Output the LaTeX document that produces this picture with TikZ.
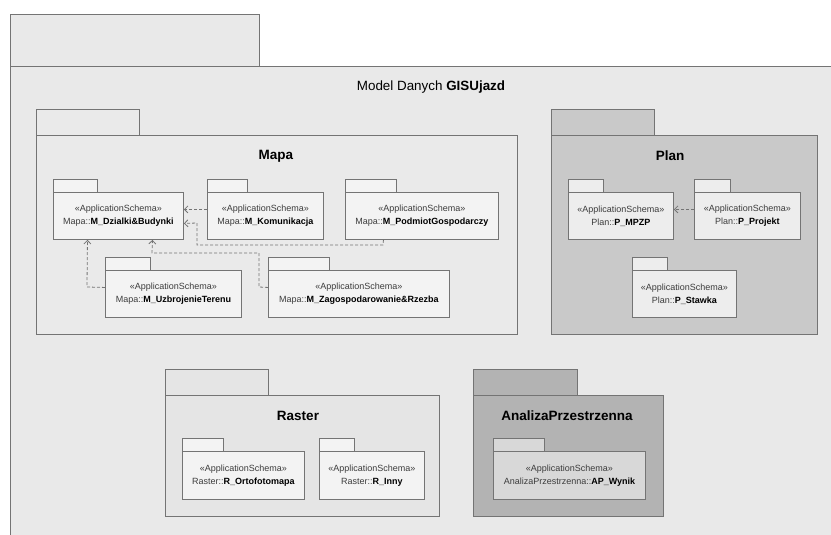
\documentclass[tikz,border=0pt]{standalone}
\usepackage{fontspec}
\setmainfont{Liberation Sans}
\usetikzlibrary{arrows.meta}
\definecolor{lineg}{HTML}{747474}
\definecolor{outerf}{HTML}{E9E9E9}
\definecolor{mapaf}{HTML}{EAEAEA}
\definecolor{rastf}{HTML}{E5E5E5}
\definecolor{innerf}{HTML}{F3F3F3}
\definecolor{planf}{HTML}{C9C9C9}
\definecolor{planinf}{HTML}{EDEDED}
\definecolor{apf}{HTML}{B3B3B3}
\definecolor{apinf}{HTML}{D8D8D8}
\definecolor{txtg}{HTML}{3C3C3C}
\tikzset{
  pkgbody/.style={draw=lineg, line width=0.9pt, anchor=north west, inner sep=0pt, align=center,
    font=\fontsize{9}{13}\selectfont, text=txtg},
  pkgtab/.style={draw=lineg, line width=0.9pt},
  bigbody/.style={draw=lineg, line width=0.9pt},
  ttl/.style={font=\fontsize{13.5}{16}\selectfont\bfseries, text=black},
  dep/.style={draw=lineg, line width=0.8pt, dash pattern=on 3pt off 2pt, -{Straight Barb[length=3.5pt,width=7pt]}},
}
\newcommand{\stname}[2]{«ApplicationSchema»\\#1::\textbf{\color{black}#2}}
\begin{document}
\begin{tikzpicture}[x=1pt,y=-1pt]
\useasboundingbox (0,0) rectangle (831,535);
\fill[white] (0,0) rectangle (831,535);
% outer package
\begin{scope}
\clip (0,0) rectangle (831,535);
\draw[pkgtab, fill=outerf] (10,14) rectangle (259,66);
\draw[bigbody, fill=outerf] (10,66) rectangle (845,550);
\end{scope}
\node[font=\fontsize{13.4}{16}\selectfont] (model) at (431,87) {Model Danych \textbf{GISUjazd}};

% Mapa
\draw[pkgtab, fill=mapaf] (36,109) rectangle (139,135);
\draw[bigbody, fill=mapaf] (36,135) rectangle (517,334);
\node[ttl] (mapa) at (276,156) {Mapa};

\node[pkgbody, fill=innerf, minimum width=130pt, minimum height=47pt] (dz) at (53,192) {\stname{Mapa}{M\_Dzialki\&Budynki}};
\draw[pkgtab, fill=innerf] (dz.north west) rectangle ++(44,-13);
\node[pkgbody, fill=innerf, minimum width=116pt, minimum height=47pt] (ko) at (207,192) {\stname{Mapa}{M\_Komunikacja}};
\draw[pkgtab, fill=innerf] (ko.north west) rectangle ++(40,-13);
\node[pkgbody, fill=innerf, minimum width=153pt, minimum height=47pt] (pm) at (345,192) {\stname{Mapa}{M\_PodmiotGospodarczy}};
\draw[pkgtab, fill=innerf] (pm.north west) rectangle ++(51,-13);
\node[pkgbody, fill=innerf, minimum width=136pt, minimum height=47pt] (uz) at (105,270) {\stname{Mapa}{M\_UzbrojenieTerenu}};
\draw[pkgtab, fill=innerf] (uz.north west) rectangle ++(45,-13);
\node[pkgbody, fill=innerf, minimum width=181pt, minimum height=47pt] (zg) at (268,270) {\stname{Mapa}{M\_Zagospodarowanie\&Rzezba}};
\draw[pkgtab, fill=innerf] (zg.north west) rectangle ++(61,-13);

\coordinate (pmA) at (383,245);
\coordinate (pmB) at (197,245);
\coordinate (pmC) at (197,223);
\coordinate (uzA) at (87,287);
\coordinate (zgA) at (259,287);
\coordinate (zgB) at (259,253);
\coordinate (zgC) at (152,253);
\draw[dep] ([yshift=6.5pt]ko.west) -- ([yshift=6.5pt]dz.east);
\draw[dep] ([xshift=-38.5pt]pm.south) -- (pmA) -- (pmB) -- (pmC) -- ([yshift=-7.5pt]dz.east);
\draw[dep] ([yshift=6.5pt]uz.west) -- (uzA) -- ([xshift=-31pt]dz.south);
\draw[dep] ([yshift=6.5pt]zg.west) -- (zgA) -- (zgB) -- (zgC) -- ([xshift=34pt]dz.south);

% Plan
\draw[pkgtab, fill=planf] (551,109) rectangle (654,135);
\draw[bigbody, fill=planf] (551,135) rectangle (817,334);
\node[ttl] (plan) at (670,156) {Plan};
\node[pkgbody, fill=planinf, minimum width=105pt, minimum height=47pt] (mp) at (568,192) {\stname{Plan}{P\_MPZP}};
\draw[pkgtab, fill=planinf] (mp.north west) rectangle ++(35,-13);
\node[pkgbody, fill=planinf, minimum width=106pt, minimum height=47pt] (pr) at (694,192) {\stname{Plan}{P\_Projekt}};
\draw[pkgtab, fill=planinf] (pr.north west) rectangle ++(36,-13);
\node[pkgbody, fill=planinf, minimum width=104pt, minimum height=47pt] (st) at (632,270) {\stname{Plan}{P\_Stawka}};
\draw[pkgtab, fill=planinf] (st.north west) rectangle ++(35,-13);
\draw[dep] ([yshift=6.5pt]pr.west) -- ([yshift=6.5pt]mp.east);

% Raster
\draw[pkgtab, fill=rastf] (165,369) rectangle (268,395);
\draw[bigbody, fill=rastf] (165,395) rectangle (439,516);
\node[ttl] (raster) at (298,416) {Raster};
\node[pkgbody, fill=innerf, minimum width=122pt, minimum height=48pt] (or) at (182,451) {\stname{Raster}{R\_Ortofotomapa}};
\draw[pkgtab, fill=innerf] (or.north west) rectangle ++(41,-13);
\node[pkgbody, fill=innerf, minimum width=105pt, minimum height=48pt] (in) at (319,451) {\stname{Raster}{R\_Inny}};
\draw[pkgtab, fill=innerf] (in.north west) rectangle ++(35,-13);

% AnalizaPrzestrzenna
\draw[pkgtab, fill=apf] (473,369) rectangle (577,395);
\draw[bigbody, fill=apf] (473,395) rectangle (663,516);
\node[ttl] (ap) at (567,416) {AnalizaPrzestrzenna};
\node[pkgbody, fill=apinf, minimum width=152pt, minimum height=48pt] (wy) at (493,451) {\stname{AnalizaPrzestrzenna}{AP\_Wynik}};
\draw[pkgtab, fill=apinf] (wy.north west) rectangle ++(51,-13);
\end{tikzpicture}
\end{document}
